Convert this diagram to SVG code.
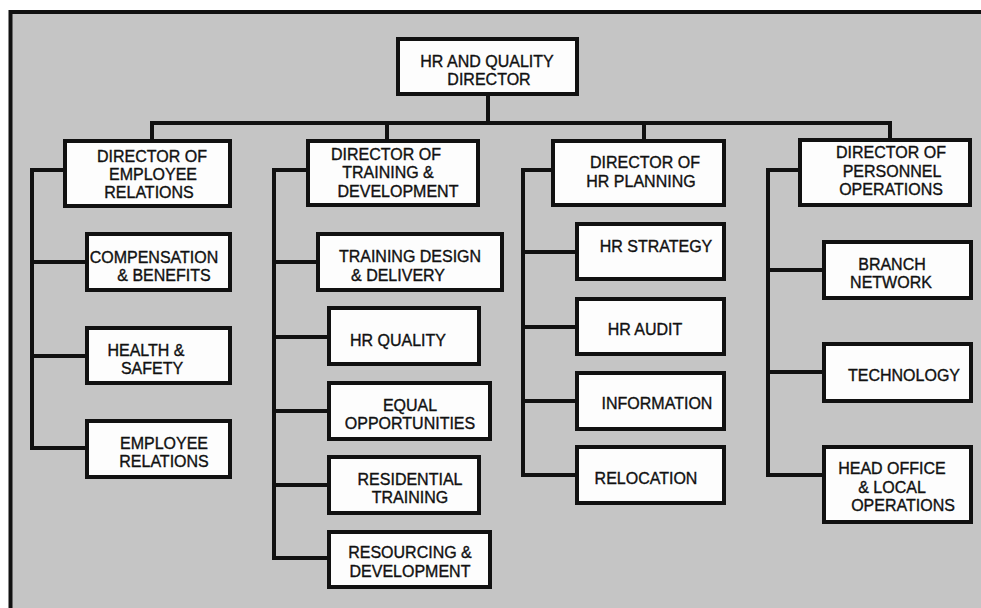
<svg xmlns="http://www.w3.org/2000/svg" width="981" height="608" viewBox="0 0 981 608">
  <defs>
    <style>
      .frame { fill: #c5c5c5; stroke: #111; stroke-width: 4; }
      .box { fill: #fdfdfd; stroke: #111; stroke-width: 4; }
      .link { fill: none; stroke: #111; stroke-width: 4; stroke-linejoin: miter; stroke-linecap: square; }
      text { font-family: "Liberation Sans", Arial, sans-serif; font-size: 16px; fill: #111; stroke: #111; stroke-width: 0.35; text-anchor: middle; }
    </style>
  </defs>

  <!-- page and panel -->
  <rect x="0" y="0" width="981" height="608" fill="#ffffff"/>
  <rect class="frame" x="10.5" y="12" width="1000" height="640"/>

  <!-- connectors -->
  <g id="connectors">
    <!-- top level -->
    <path class="link" d="M488 94 V123 M152 141 V123 H890 V141 M387 123 V141 M644 123 V141"/>
    <!-- employee relations branch -->
    <path class="link" d="M65 170 H32 V448 H87 M32 262 H87 M32 356 H87"/>
    <!-- training & development branch -->
    <path class="link" d="M308 170 H274 V558 H329 M274 262 H318 M274 337 H329 M274 411 H329 M274 485 H329"/>
    <!-- hr planning branch -->
    <path class="link" d="M553 170 H523 V475 H577 M523 252 H577 M523 327 H577 M523 401 H577"/>
    <!-- personnel operations branch -->
    <path class="link" d="M800 170 H768 V475 H824 M768 270 H824 M768 372 H824"/>
  </g>

  <!-- top -->
  <g id="hr-quality-director">
    <rect class="box" x="398" y="39" width="179" height="55"/>
    <text x="487" y="67">HR AND QUALITY</text>
    <text x="489" y="85">DIRECTOR</text>
  </g>

  <!-- directors -->
  <g id="dir-employee-relations">
    <rect class="box" x="65" y="141" width="165" height="65"/>
    <text x="152" y="162">DIRECTOR OF</text>
    <text x="153" y="180">EMPLOYEE</text>
    <text x="149" y="198">RELATIONS</text>
  </g>
  <g id="dir-training-development">
    <rect class="box" x="308" y="141" width="170" height="64"/>
    <text x="386" y="160">DIRECTOR OF</text>
    <text x="388" y="178">TRAINING &amp;</text>
    <text x="398" y="197">DEVELOPMENT</text>
  </g>
  <g id="dir-hr-planning">
    <rect class="box" x="553" y="141" width="171" height="64"/>
    <text x="645" y="168">DIRECTOR OF</text>
    <text x="641" y="187">HR PLANNING</text>
  </g>
  <g id="dir-personnel-operations">
    <rect class="box" x="800" y="140" width="170" height="65"/>
    <text x="891" y="158">DIRECTOR OF</text>
    <text x="892" y="177">PERSONNEL</text>
    <text x="891" y="195">OPERATIONS</text>
  </g>

  <!-- employee relations units -->
  <g id="compensation-benefits">
    <rect class="box" x="87" y="234" width="143" height="56"/>
    <text x="154" y="263">COMPENSATION</text>
    <text x="164" y="281">&amp; BENEFITS</text>
  </g>
  <g id="health-safety">
    <rect class="box" x="87" y="328" width="143" height="55"/>
    <text x="146" y="356">HEALTH &amp;</text>
    <text x="152" y="374">SAFETY</text>
  </g>
  <g id="employee-relations">
    <rect class="box" x="87" y="421" width="143" height="56"/>
    <text x="164" y="449">EMPLOYEE</text>
    <text x="164" y="467">RELATIONS</text>
  </g>

  <!-- training & development units -->
  <g id="training-design-delivery">
    <rect class="box" x="318" y="234" width="184" height="56"/>
    <text x="410" y="262">TRAINING DESIGN</text>
    <text x="398" y="281">&amp; DELIVERY</text>
  </g>
  <g id="hr-quality">
    <rect class="box" x="329" y="308" width="150" height="56"/>
    <text x="398" y="346">HR QUALITY</text>
  </g>
  <g id="equal-opportunities">
    <rect class="box" x="329" y="383" width="161" height="56"/>
    <text x="410" y="411">EQUAL</text>
    <text x="410" y="429">OPPORTUNITIES</text>
  </g>
  <g id="residential-training">
    <rect class="box" x="329" y="457" width="150" height="56"/>
    <text x="410" y="485">RESIDENTIAL</text>
    <text x="410" y="503">TRAINING</text>
  </g>
  <g id="resourcing-development">
    <rect class="box" x="329" y="532" width="161" height="55"/>
    <text x="410" y="558">RESOURCING &amp;</text>
    <text x="410" y="577">DEVELOPMENT</text>
  </g>

  <!-- hr planning units -->
  <g id="hr-strategy">
    <rect class="box" x="577" y="224" width="147" height="55"/>
    <text x="656" y="252">HR STRATEGY</text>
  </g>
  <g id="hr-audit">
    <rect class="box" x="577" y="299" width="147" height="55"/>
    <text x="645" y="335">HR AUDIT</text>
  </g>
  <g id="information">
    <rect class="box" x="577" y="373" width="147" height="56"/>
    <text x="657" y="409">INFORMATION</text>
  </g>
  <g id="relocation">
    <rect class="box" x="577" y="447" width="147" height="56"/>
    <text x="646" y="484">RELOCATION</text>
  </g>

  <!-- personnel operations units -->
  <g id="branch-network">
    <rect class="box" x="824" y="242" width="147" height="56"/>
    <text x="892" y="270">BRANCH</text>
    <text x="891" y="288">NETWORK</text>
  </g>
  <g id="technology">
    <rect class="box" x="824" y="344" width="147" height="57"/>
    <text x="904" y="381">TECHNOLOGY</text>
  </g>
  <g id="head-office-local-operations">
    <rect class="box" x="824" y="447" width="147" height="75"/>
    <text x="892" y="474">HEAD OFFICE</text>
    <text x="892" y="493">&amp; LOCAL</text>
    <text x="903" y="511">OPERATIONS</text>
  </g>
</svg>
